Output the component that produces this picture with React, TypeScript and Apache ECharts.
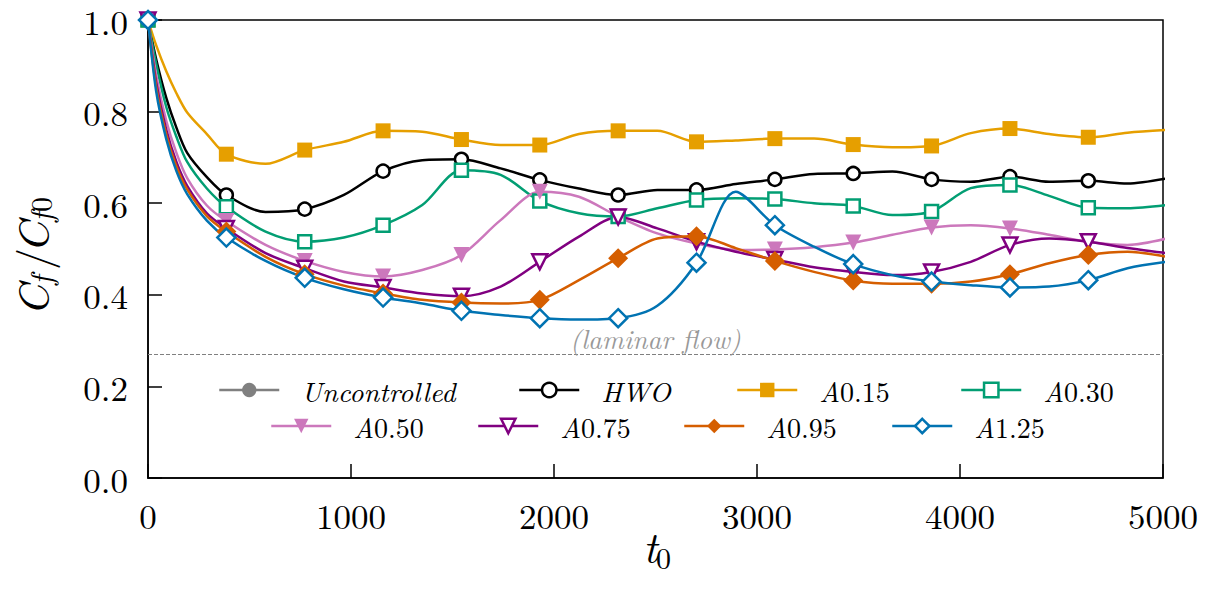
import React, { useEffect, useRef } from 'react';
import * as echarts from 'echarts';

// ---- data ----
const T = [0, 40, 90, 140, 193, 290, 386, 579, 772, 965, 1158, 1351, 1544, 1737, 1930, 2123, 2316, 2509, 2702, 2895, 3088, 3281, 3474, 3667, 3860, 4053, 4246, 4439, 4632, 4825, 5018];
const MARK_STEP = 386;
const UNCONTROLLED: number[] = [];
const HWO = [1.0, 0.915, 0.83, 0.765, 0.71, 0.657, 0.618, 0.581, 0.587, 0.618, 0.670, 0.694, 0.696, 0.676, 0.651, 0.632, 0.618, 0.629, 0.629, 0.642, 0.652, 0.664, 0.665, 0.669, 0.652, 0.647, 0.658, 0.647, 0.649, 0.643, 0.654];
const A015 = [1.0, 0.945, 0.888, 0.84, 0.798, 0.751, 0.707, 0.686, 0.716, 0.734, 0.758, 0.756, 0.739, 0.727, 0.727, 0.751, 0.758, 0.758, 0.734, 0.737, 0.741, 0.741, 0.728, 0.722, 0.725, 0.753, 0.763, 0.751, 0.744, 0.754, 0.760];
const A030 = [1.0, 0.905, 0.81, 0.745, 0.69, 0.632, 0.592, 0.538, 0.516, 0.525, 0.552, 0.596, 0.672, 0.662, 0.605, 0.578, 0.571, 0.589, 0.607, 0.611, 0.609, 0.600, 0.594, 0.574, 0.582, 0.633, 0.640, 0.616, 0.590, 0.589, 0.596];
const A050 = [1.0, 0.88, 0.78, 0.71, 0.655, 0.595, 0.561, 0.509, 0.474, 0.450, 0.440, 0.454, 0.487, 0.563, 0.625, 0.614, 0.571, 0.534, 0.512, 0.498, 0.499, 0.504, 0.514, 0.531, 0.547, 0.552, 0.545, 0.531, 0.516, 0.509, 0.523];
const A075 = [1.0, 0.865, 0.76, 0.69, 0.638, 0.578, 0.545, 0.491, 0.458, 0.429, 0.416, 0.403, 0.397, 0.418, 0.472, 0.527, 0.570, 0.545, 0.516, 0.494, 0.477, 0.460, 0.450, 0.443, 0.450, 0.472, 0.509, 0.523, 0.516, 0.502, 0.491];
const A095 = [1.0, 0.855, 0.75, 0.68, 0.63, 0.572, 0.538, 0.483, 0.445, 0.420, 0.403, 0.389, 0.383, 0.381, 0.389, 0.432, 0.480, 0.523, 0.528, 0.502, 0.474, 0.450, 0.431, 0.424, 0.424, 0.429, 0.445, 0.469, 0.487, 0.494, 0.483];
const A125 = [1.0, 0.845, 0.74, 0.67, 0.62, 0.562, 0.525, 0.474, 0.437, 0.412, 0.394, 0.381, 0.365, 0.356, 0.349, 0.346, 0.349, 0.376, 0.470, 0.625, 0.552, 0.505, 0.467, 0.443, 0.429, 0.421, 0.416, 0.418, 0.432, 0.458, 0.472];
const LAMINAR = 0.27;
const X_TICKS = { min: 0, max: 5000, interval: 1000 };
const Y_TICKS = { min: 0, max: 1, interval: 0.2 };

const NAMES = ['Uncontrolled', 'HWO', 'A0.15', 'A0.30', 'A0.50', 'A0.75', 'A0.95', 'A1.25'];
const VALUES = [UNCONTROLLED, HWO, A015, A030, A050, A075, A095, A125];

// ---- styles ----
const FONT = 'Latin Modern Roman';
type St = { color: string; symbol: string; size: number; rotate?: number; open?: boolean };
const STYLES: St[] = [
  { color: '#808080', symbol: 'circle', size: 13 },
  { color: '#000000', symbol: 'circle', size: 13, open: true },
  { color: '#E69F00', symbol: 'rect', size: 15 },
  { color: '#029E73', symbol: 'rect', size: 13, open: true },
  { color: '#CC78BC', symbol: 'triangle', size: 16, rotate: 180 },
  { color: '#800080', symbol: 'triangle', size: 15, rotate: 180, open: true },
  { color: '#D55E00', symbol: 'diamond', size: 20 },
  { color: '#0173B2', symbol: 'diamond', size: 18, open: true },
];
const LEGEND_POS = [
  [218, 391], [518, 391], [736, 391], [960, 391],
  [270, 427], [477, 427], [683, 427], [891, 427],
];

function itemStyleOf(st: St) {
  return st.open
    ? { color: '#ffffff', borderColor: st.color, borderWidth: 2.5 }
    : { color: st.color, borderWidth: 0 };
}

function legendLabel(name: string) {
  if (name.startsWith('A')) return `{sp|}{i|A}{n|${name.slice(1)}}`;
  return `{sp|}{i|${name}}`;
}

function txt(text: string, x: number, y: number, size: number, italic: boolean) {
  return {
    type: 'text', x, y,
    style: { text, fontFamily: FONT, fontSize: size, fontStyle: italic ? 'italic' : 'normal', fill: '#000', verticalAlign: 'middle' },
  };
}

export default function App() {
  const ref = useRef<HTMLDivElement>(null);
  useEffect(() => {
    if (!ref.current) return;
    const chart = echarts.init(ref.current, undefined, { renderer: 'svg' });

    const series: any[] = NAMES.map((name, k) => {
      const st = STYLES[k];
      const vals = VALUES[k];
      const s: any = {
        type: 'line',
        name,
        color: st.color,
        data: vals.map((v, i) => {
          const t = T[i];
          return t % MARK_STEP === 0 ? { value: [t, v] } : { value: [t, v], symbol: 'none' };
        }),
        smooth: 0.3,
        symbol: st.symbol,
        symbolSize: st.size,
        symbolRotate: st.rotate || 0,
        showSymbol: true,
        showAllSymbol: true,
        lineStyle: { color: st.color, width: 2.5 },
        itemStyle: itemStyleOf(st),
        emphasis: { disabled: true },
        silent: true,
        clip: true,
      };
      if (name === 'A0.15') {
        s.markLine = {
          silent: true,
          symbol: ['none', 'none'],
          data: [{ yAxis: LAMINAR }],
          lineStyle: { type: [4, 2], color: '#808080', width: 1 },
          label: {
            show: true,
            position: 'insideMiddleTop',
            formatter: '(laminar flow)',
            fontFamily: FONT,
            fontStyle: 'italic',
            fontSize: 27,
            color: '#999999',
            distance: 3,
          },
          emphasis: { disabled: true },
        };
      }
      return s;
    });

    const legends = NAMES.map((name, k) => {
      const st = STYLES[k];
      return {
        data: [{ name, itemStyle: itemStyleOf(st), lineStyle: { color: st.color, width: 2.5 } }],
        left: LEGEND_POS[k][0],
        top: LEGEND_POS[k][1] - 15,
        padding: 0,
        itemWidth: 60,
        itemHeight: 18,
        selectedMode: false,
        formatter: legendLabel,
        textStyle: {
          fontFamily: FONT,
          fontSize: 28,
          color: '#000',
          rich: {
            sp: { width: 17 },
            i: { fontFamily: FONT, fontStyle: 'italic', fontSize: 28, color: '#000' },
            n: { fontFamily: FONT, fontSize: 28, color: '#000' },
          },
        },
      };
    });

    chart.setOption({
      animation: false,
      backgroundColor: '#ffffff',
      grid: { left: 148, right: 52, top: 20, bottom: 112, show: true, borderColor: '#000', borderWidth: 1.5, backgroundColor: 'transparent' },
      xAxis: {
        type: 'value',
        ...X_TICKS,
        axisLine: { show: true, lineStyle: { color: '#000', width: 1.5 } },
        axisTick: { show: true, inside: true, length: 14, lineStyle: { color: '#000', width: 1.5 } },
        splitLine: { show: false },
        axisLabel: { fontFamily: FONT, fontSize: 35, color: '#000', margin: 19, showMaxLabel: true, showMinLabel: true, formatter: (v: number) => String(v) },
      },
      yAxis: {
        type: 'value',
        ...Y_TICKS,
        axisLine: { show: true, lineStyle: { color: '#000', width: 1.5 } },
        axisTick: { show: true, inside: true, length: 14, lineStyle: { color: '#000', width: 1.5 } },
        splitLine: { show: false },
        axisLabel: { fontFamily: FONT, fontSize: 35, color: '#000', margin: 20, formatter: (v: number) => v.toFixed(1) },
      },
      legend: legends,
      series,
      graphic: [
        {
          type: 'group',
          x: 30,
          y: 316,
          rotation: Math.PI / 2,
          children: [
            txt('C', 0, 0, 44, true),
            txt('f', 31, 9, 30, true),
            txt('/', 46, 0, 44, false),
            txt('C', 63, 0, 44, true),
            txt('f', 94, 9, 30, true),
            txt('0', 104, 9, 30, false),
          ],
        },
        txt('t', 643, 544, 44, true),
        txt('0', 656, 556, 30, false),
      ],
    });
    return () => chart.dispose();
  }, []);
  return <div ref={ref} style={{ position: 'fixed', left: 0, top: 0, width: 1215, height: 590 }} />;
}
